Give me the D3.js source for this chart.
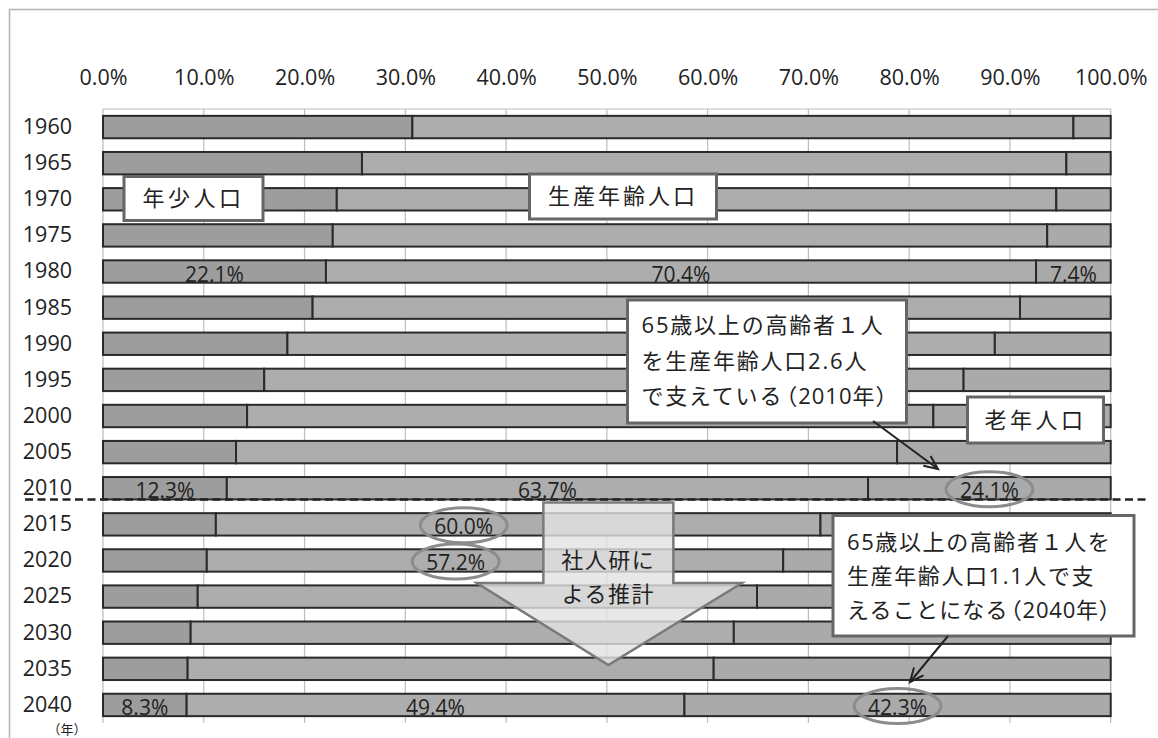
<!DOCTYPE html>
<html lang="ja">
<head>
<meta charset="utf-8">
<script src="https://cdn.jsdelivr.net/npm/d3@7"></script>
<style>
  html, body { margin: 0; padding: 0; background: #fff; }
  svg { display: block; }
  text { font-family: "Open Sans", "Noto Sans CJK JP", sans-serif; fill: #222; }
</style>
</head>
<body>
<svg id="chart" width="1158" height="738"></svg>
<script>
// 年齢3区分別人口の割合（%）
const years = ["1960","1965","1970","1975","1980","1985","1990","1995","2000",
               "2005","2010","2015","2020","2025","2030","2035","2040"];
const young   = [30.7, 25.7, 23.2, 22.8, 22.1, 20.8, 18.3, 16.0, 14.3, 13.2, 12.3, 11.2, 10.3, 9.4, 8.7, 8.4, 8.3];
const working = [65.6, 69.9, 71.4, 70.9, 70.4, 70.2, 70.2, 69.4, 68.1, 65.6, 63.7, 60.0, 57.2, 55.5, 53.9, 52.2, 49.4];
const elderly = [ 3.7,  4.4,  5.4,  6.3,  7.4,  9.0, 11.5, 14.6, 17.6, 21.2, 24.1, 28.8, 32.5, 35.1, 37.4, 39.4, 42.3];
const tickValues = [0, 0.1, 0.2, 0.3, 0.4, 0.5, 0.6, 0.7, 0.8, 0.9, 1.0];
const seriesKeys = ["young", "working", "elderly"];

const rows = years.map((yr, i) => ({ year: yr, young: young[i], working: working[i], elderly: elderly[i] }));

const svg = d3.select("#chart");
const plot = { left: 103, right: 1110.7, top: 109, bottom: 723 };

const x = d3.scaleLinear().domain([0, 1]).range([plot.left, plot.right]);
const y = d3.scaleBand().domain(years).range([plot.top, plot.bottom])
  .paddingInner(0.38).paddingOuter(0.19);

const fills = { young: "#9d9d9d", working: "#adadad", elderly: "#aaaaaa" };

// 外枠
svg.append("rect").attr("x", 9.5).attr("y", 9.5).attr("width", 1400).attr("height", 1000)
  .attr("fill", "none").attr("stroke", "#b4b4b4").attr("stroke-width", 1.5);

// 目盛線
svg.append("g").selectAll("line").data(tickValues.slice(1)).join("line")
  .attr("x1", d => x(d)).attr("x2", d => x(d))
  .attr("y1", plot.top).attr("y2", plot.bottom)
  .attr("stroke", "#bdbdbd").attr("stroke-width", 1.2);
svg.append("line").attr("x1", plot.left).attr("x2", plot.right).attr("y1", plot.top).attr("y2", plot.top)
  .attr("stroke", "#bdbdbd").attr("stroke-width", 1.2);
svg.append("line").attr("x1", plot.left).attr("x2", plot.left).attr("y1", plot.top).attr("y2", plot.bottom)
  .attr("stroke", "#bdbdbd").attr("stroke-width", 1.2);

// 上軸
const xAxis = d3.axisTop(x).tickValues(tickValues).tickFormat(d3.format(".1%")).tickSize(0).tickPadding(24);
const gx = svg.append("g").attr("transform", `translate(0,${plot.top})`).call(xAxis);
gx.select(".domain").remove();
gx.selectAll("text").attr("font-size", 21.5).style("font-family", '"Open Sans", sans-serif').attr("fill", "#222");

// 左軸
const yAxis = d3.axisLeft(y).tickSize(0).tickPadding(31);
const gy = svg.append("g").attr("transform", `translate(${plot.left},0)`).call(yAxis);
gy.select(".domain").remove();
gy.selectAll("text").attr("font-size", 21.5).style("font-family", '"Open Sans", sans-serif').attr("fill", "#222");

svg.append("text").attr("x", 67).attr("y", 734).attr("text-anchor", "middle")
  .attr("font-size", 13).text("（年）");

// 積み上げ横棒
const stack = d3.stack().keys(seriesKeys).offset(d3.stackOffsetExpand);
const series = stack(rows);
svg.append("g").selectAll("g").data(series).join("g")
  .attr("fill", d => fills[d.key])
  .selectAll("rect").data(d => d).join("rect")
  .attr("x", d => x(d[0])).attr("width", d => x(d[1]) - x(d[0]))
  .attr("y", d => y(d.data.year)).attr("height", y.bandwidth())
  .attr("stroke", "#2a2a2a").attr("stroke-width", 2);

// 実績と推計の境界（破線）
const splitY = y("2010") + y.bandwidth();
svg.append("line").attr("x1", 25).attr("x2", 1147).attr("y1", splitY).attr("y2", splitY)
  .attr("stroke", "#222").attr("stroke-width", 2.5).attr("stroke-dasharray", "8,4.5");

// データラベル
const segOf = (year, key) => {
  const s = series.find(d => d.key === key);
  return s[years.indexOf(year)];
};
const labelSpecs = [
  { year: "1980", key: "young" }, { year: "1980", key: "working" }, { year: "1980", key: "elderly" },
  { year: "2010", key: "young" }, { year: "2010", key: "working" }, { year: "2010", key: "elderly", ring: true },
  { year: "2015", key: "working", at: 0.358, ring: true },
  { year: "2020", key: "working", at: 0.350, ring: true },
  { year: "2040", key: "young" }, { year: "2040", key: "working" }, { year: "2040", key: "elderly", ring: true }
];
const valueOf = { young, working, elderly };
const labels = labelSpecs.map(s => {
  const seg = segOf(s.year, s.key);
  const cx = s.at !== undefined ? x(s.at) : (x(seg[0]) + x(seg[1])) / 2;
  const cy = y(s.year) + y.bandwidth() / 2;
  return { ...s, cx, cy, text: valueOf[s.key][years.indexOf(s.year)].toFixed(1) + "%" };
});
const gl = svg.append("g");
gl.selectAll("text").data(labels).join("text")
  .attr("x", d => d.cx).attr("y", d => d.cy + 2)
  .attr("text-anchor", "middle").attr("dominant-baseline", "central")
  .attr("font-size", 21).attr("fill", "#2a2a2a")
  .style("font-family", '"Open Sans", sans-serif')
  .text(d => d.text);
gl.selectAll("ellipse").data(labels.filter(d => d.ring)).join("ellipse")
  .attr("cx", d => d.cx).attr("cy", d => d.cy + 1).attr("rx", 43.5).attr("ry", 17.5)
  .attr("fill", "none").attr("stroke", "#8c8c8c").attr("stroke-width", 3);

// 推計を示す下向き矢印
const aTop = splitY + 3, aNeck = 583, aTip = 665;
const arrowPts = [
  [x(0.437), aTop], [x(0.566), aTop], [x(0.566), aNeck], [x(0.634), aNeck],
  [x(0.5015), aTip], [x(0.371), aNeck], [x(0.437), aNeck]
];
svg.append("polygon").attr("points", arrowPts.map(p => p.join(",")).join(" "))
  .attr("fill", "#e2e2e2").attr("fill-opacity", 0.8)
  .attr("stroke", "#7a7a7a").attr("stroke-width", 2.5).attr("stroke-linejoin", "miter");
svg.append("text").attr("x", x(0.5015)).attr("text-anchor", "middle")
  .attr("font-size", 22).attr("letter-spacing", 1.5)
  .selectAll("tspan").data(["社人研に", "よる推計"]).join("tspan")
  .attr("x", x(0.5015)).attr("y", (d, i) => 568 + i * 34).text(d => d);

// 説明ボックス（行は文字列、または {t, dx} の断片の配列）
function box(x0, y0, w, h, lines, opts = {}) {
  const g = svg.append("g");
  g.append("rect").attr("x", x0).attr("y", y0).attr("width", w).attr("height", h)
    .attr("fill", "#fff").attr("stroke", "#666").attr("stroke-width", 3);
  lines.forEach((line, i) => {
    const parts = typeof line === "string" ? [{ t: line }] : line;
    const t = g.append("text").attr("font-size", opts.size || 22)
      .attr("letter-spacing", opts.spacing !== undefined ? opts.spacing : 2)
      .attr("text-anchor", opts.center ? "middle" : "start")
      .attr("x", opts.center ? x0 + w / 2 : x0 + opts.padX)
      .attr("y", opts.firstY + i * (opts.lh || 0));
    parts.forEach(p => {
      const s = t.append("tspan").text(p.t);
      if (p.dx) s.attr("dx", p.dx);
      if (p.ls !== undefined) s.attr("letter-spacing", p.ls);
    });
  });
  return g;
}
function pointer(x1, y1, x2, y2) {
  const ang = Math.atan2(y2 - y1, x2 - x1);
  const len = 15, spread = 0.42;
  svg.append("line").attr("x1", x1).attr("y1", y1).attr("x2", x2).attr("y2", y2)
    .attr("stroke", "#222").attr("stroke-width", 2);
  const p = [
    [x2 - len * Math.cos(ang - spread), y2 - len * Math.sin(ang - spread)],
    [x2, y2],
    [x2 - len * Math.cos(ang + spread), y2 - len * Math.sin(ang + spread)]
  ];
  svg.append("polyline").attr("points", p.map(q => q.join(",")).join(" "))
    .attr("fill", "none").attr("stroke", "#222").attr("stroke-width", 2);
}

box(124, 176.5, 139, 44, ["年少人口"], { center: true, firstY: 206, spacing: 3.5 });
box(529.5, 174, 187, 45, ["生産年齢人口"], { center: true, firstY: 204, spacing: 3 });
box(967.5, 397, 136, 46, ["老年人口"], { center: true, firstY: 428, spacing: 3.5 });

box(627.5, 300, 279, 123,
  ["65歳以上の高齢者１人", "を生産年齢人口2.6人",
   [{ t: "で支えている" }, { t: "（2010年）", dx: -8, ls: 1 }]],
  { padX: 14, firstY: 333, lh: 35.5, spacing: 1.8 });
pointer(873, 421, 938, 469);

box(833, 515.5, 301, 120.5,
  ["65歳以上の高齢者１人を", "生産年齢人口1.1人で支",
   [{ t: "えることになる", ls: 1.2 }, { t: "（2040年）", dx: -9, ls: 0.8 }]],
  { padX: 14, firstY: 550, lh: 34, spacing: 1.6 });
pointer(948, 636, 910, 682);
</script>
</body>
</html>
